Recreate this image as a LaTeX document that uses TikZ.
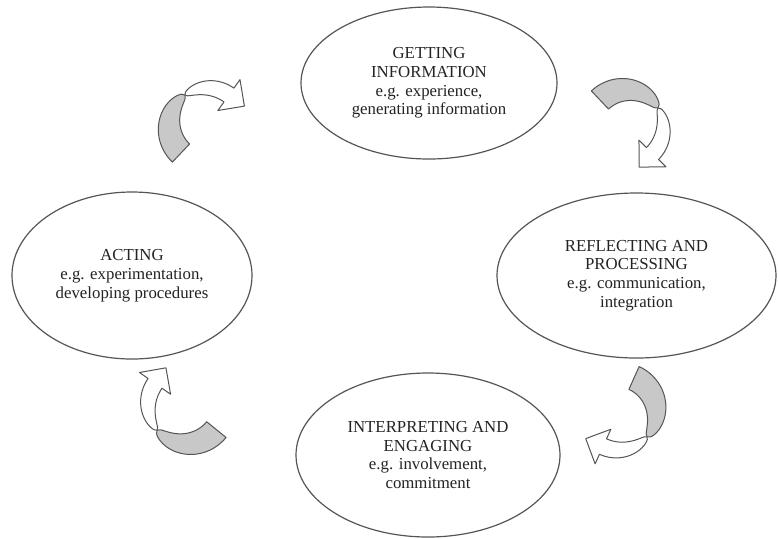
\documentclass[tikz,border=0pt]{standalone}
\usepackage{fontspec}
\setmainfont{Liberation Serif}
\usetikzlibrary{shapes.geometric,calc}

\definecolor{linegray}{RGB}{85,85,85}
\definecolor{ribbongray}{RGB}{200,200,200}
\definecolor{textgray}{RGB}{35,35,35}

\tikzset{
	stage/.style={ellipse, draw=linegray, line width=0.6pt, inner sep=0pt, align=center, text=textgray, font=\fontsize{8.4}{9.4}\selectfont},
	ribbon/.style={draw=linegray, line width=0.5pt, line join=round}
}

% #1 centre, #2 tail angle, #3 twist angle, #4 head angle, #5 radius
\newcommand{\cyclearrow}[5]{%
	\begin{scope}[shift={(#1)}]
		\filldraw[ribbon, fill=ribbongray] plot[domain=#2:#3, samples=30] (\x:{#5+12.5*sqrt(abs(sin(90*(#3-\x)/(#3-#2))))}) -- plot[domain=#3:#2, samples=30] (\x:{#5-12.5*sqrt(abs(sin(90*(#3-\x)/(#3-#2))))}) -- cycle;
		\filldraw[ribbon, fill=white] plot[domain=#3:#4, samples=30] (\x:{#5+8.5*sqrt(abs(sin(90*(\x-#3)/(#4-#3))))}) -- ({#4}:{#5+19}) -- ($({#4}:{#5})+({#4+90}:19)$) -- ({#4}:{#5-19}) -- plot[domain=#4:#3, samples=30] (\x:{#5-8.5*sqrt(abs(sin(90*(\x-#3)/(#4-#3))))}) -- cycle;
	\end{scope}}

\begin{document}
\begin{tikzpicture}[x=0.5pt, y=-0.5pt]
		\useasboundingbox[fill=white] (0,0) rectangle (778,538);
		\node[stage, minimum width=128pt, minimum height=76pt] (info) at (429,83) {GETTING\\INFORMATION\\e.g. experience,\\generating information};
		\node[stage, minimum width=139.5pt, minimum height=82.5pt] (reflect) at (636.5,275.5) {REFLECTING AND\\PROCESSING\\e.g. communication,\\integration};
		\node[stage, minimum width=132pt, minimum height=82pt] (interpret) at (428,455) {INTERPRETING AND\\ENGAGING\\e.g. involvement,\\commitment};
		\node[stage, minimum width=120pt, minimum height=83.5pt] (acting) at (132,275.5) {ACTING\\e.g. experimentation,\\developing procedures};
		% arrows between the stages
		\coordinate (toinfo) at (207,125.7);
		\coordinate (toreflect) at (625.8,127.2);
		\coordinate (tointerpret) at (618.6,412.3);
		\coordinate (toacting) at (186.5,405.4);
		\cyclearrow{toinfo}{133.6}{234.4}{305.6}{37.7}
		\cyclearrow{toreflect}{226.5}{329.2}{404.6}{37.5}
		\cyclearrow{tointerpret}{294.2}{401}{474.5}{37.6}
		\cyclearrow{toacting}{39}{140}{215}{38.4}
	\end{tikzpicture}
\end{document}
